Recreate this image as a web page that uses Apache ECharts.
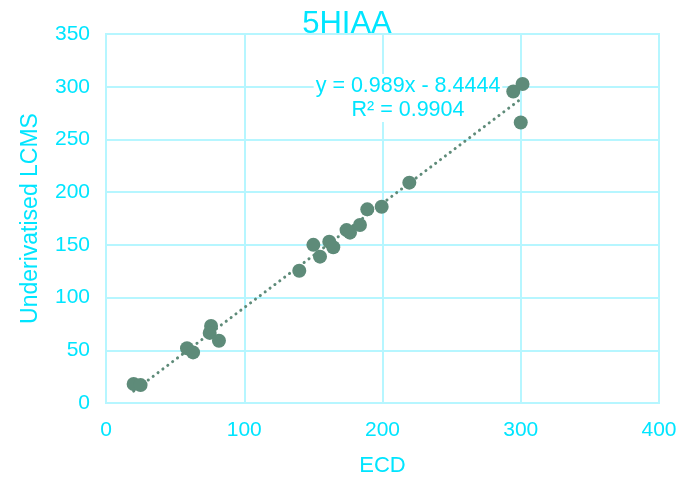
<!DOCTYPE html>
<html><head><meta charset="utf-8">
<script src="https://cdn.jsdelivr.net/npm/echarts@6/dist/echarts.min.js"></script>
<style>html,body{margin:0;padding:0;background:#fff}#c{width:683px;height:477px}</style>
</head><body><div id="c"></div>
<script>
const ecdValues = [20, 25, 58.6, 63, 76, 75, 81.7, 139.8, 150, 154.8, 161.5, 164.4, 174, 176.5, 183.7, 189, 199.4, 219.4, 294.6, 301.3, 300];
const lcmsValues = [18, 17, 52, 48, 73, 66.5, 59, 125.5, 150, 138.8, 153, 147.7, 164, 161.6, 168.9, 183.7, 186.2, 209, 295.4, 302.6, 266];
const trendSlope = 0.989;
const trendIntercept = -8.4444;
const equationText = 'y = 0.989x - 8.4444';
const r2Text = 'R² = 0.9904';
const titleText = '5HIAA';
const xName = 'ECD';
const yName = 'Underivatised LCMS';

const txt = '#00e5ff';
const grid = '#b6f6ff';
const pt = '#5e8b79';
const font = '"Liberation Sans", Arial, sans-serif';

const points = ecdValues.map((x, i) => [x, lcmsValues[i]]);
const xMin = Math.min(...ecdValues), xMax = Math.max(...ecdValues);
const trend = [[xMin, trendSlope * xMin + trendIntercept], [xMax, trendSlope * xMax + trendIntercept]];

const chart = echarts.init(document.getElementById('c'));
chart.setOption({
  animation: false,
  textStyle: { fontFamily: font },
  title: { text: titleText, left: 342, top: 4, textAlign: 'center',
    textStyle: { color: txt, fontSize: 31, fontWeight: 'normal', fontFamily: font } },
  grid: { left: 106, right: 24, top: 34, bottom: 74, show: true, borderColor: grid, borderWidth: 2,
    outerBoundsMode: 'none', containLabel: false },
  xAxis: { type: 'value', min: 0, max: 400, interval: 100,
    name: xName, nameLocation: 'middle', nameGap: 52,
    nameTextStyle: { color: txt, fontSize: 22, fontFamily: font },
    axisLine: { show: true, lineStyle: { color: grid, width: 2 } },
    axisTick: { show: false },
    axisLabel: { color: txt, fontSize: 21, margin: 17, fontFamily: font },
    splitLine: { show: true, lineStyle: { color: grid, width: 2 } } },
  yAxis: { type: 'value', min: 0, max: 350, interval: 50,
    name: yName, nameLocation: 'middle', nameGap: 64,
    nameTextStyle: { color: txt, fontSize: 23, fontFamily: font },
    axisLine: { show: true, lineStyle: { color: grid, width: 2 } },
    axisTick: { show: false },
    axisLabel: { color: txt, fontSize: 21, margin: 16, fontFamily: font },
    splitLine: { show: true, lineStyle: { color: grid, width: 2 } } },
  graphic: [
    { type: 'text', x: 408, y: 86, z: 10, style: { text: equationText, fill: txt, font: '21.5px ' + font, align: 'center', verticalAlign: 'middle', backgroundColor: '#fff', padding: [1, 2] } },
    { type: 'text', x: 408, y: 110, z: 10, style: { text: r2Text, fill: txt, font: '21.5px ' + font, align: 'center', verticalAlign: 'middle', backgroundColor: '#fff', padding: [1, 2] } }
  ],
  series: [
    { type: 'line', data: trend, symbol: 'none', silent: true, z: 1,
      lineStyle: { color: pt, width: 3, type: [0.1, 6], cap: 'round' } },
    { type: 'scatter', data: points, symbolSize: 14, z: 2,
      itemStyle: { color: pt, opacity: 1 } }
  ]
});
</script></body></html>
